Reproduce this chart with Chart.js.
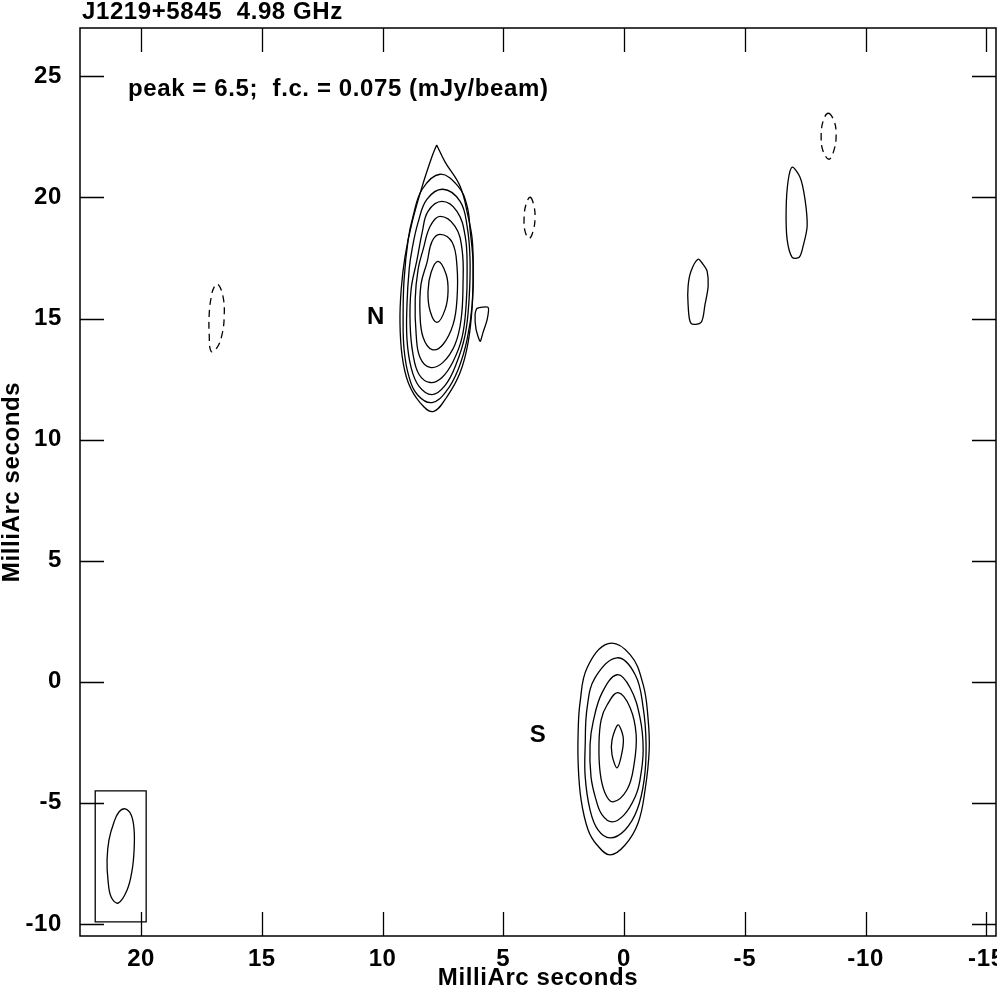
<!DOCTYPE html>
<html>
<head>
<meta charset="utf-8">
<title>J1219+5845 4.98 GHz</title>
<script src="https://cdn.jsdelivr.net/npm/chart.js@4.4.1/dist/chart.umd.min.js"></script>
<style>
  html, body { margin: 0; padding: 0; background: #fff; }
  canvas { display: block; }
</style>
</head>
<body>
<canvas id="map" width="997" height="990"></canvas>
<script>
// axes (milliarcseconds), x runs right to left
const xRange = [-15.4, 22.53];
const yRange = [-10.5, 27.0];
const xTicks = [20, 15, 10, 5, 0, -5, -10, -15];
const yTicks = [-10, -5, 0, 5, 10, 15, 20, 25];

// component N, contours from outside in
const north1 = [[7.76,22.17],[7.41,21.46],[6.79,20.46],[6.46,19.22],[6.29,18.27],[6.25,17.03],[6.29,15.50],[6.46,14.01],[6.79,12.77],[7.33,11.78],[7.91,11.16],[8.45,11.53],[8.94,12.36],[9.19,13.44],[9.28,14.84],[9.23,16.20],[9.07,17.57],[8.78,18.97],[8.36,20.46],[7.95,21.70],[7.76,22.17]];
const north2 = [[7.62,20.96],[6.87,20.46],[6.50,19.64],[6.38,18.69],[6.25,17.24],[6.29,15.58],[6.50,14.14],[6.87,12.90],[7.37,11.99],[7.95,11.53],[8.53,11.82],[8.90,12.57],[9.11,13.72],[9.15,15.17],[9.11,16.62],[8.94,18.27],[8.74,19.22],[8.36,20.34]];
const north3 = [[7.50,20.34],[6.79,19.84],[6.50,18.81],[6.38,17.45],[6.42,15.79],[6.58,14.34],[6.96,13.10],[7.41,12.24],[7.95,11.86],[8.49,12.20],[8.82,12.98],[8.99,14.14],[8.99,15.58],[8.90,17.03],[8.78,17.86],[8.53,18.97],[8.16,19.93]];
const north4 = [[7.54,19.84],[6.92,19.43],[6.58,18.40],[6.50,17.03],[6.54,15.58],[6.71,14.22],[7.08,13.23],[7.54,12.57],[8.03,12.36],[8.49,12.69],[8.74,13.52],[8.86,14.76],[8.82,16.20],[8.57,17.45],[8.36,18.56],[8.12,19.43]];
const north5 = [[7.62,19.22],[7.00,18.81],[6.71,17.86],[6.67,16.41],[6.75,14.96],[7.00,13.93],[7.50,13.19],[8.03,12.98],[8.45,13.39],[8.61,14.34],[8.65,15.79],[8.53,17.03],[8.32,17.86],[8.03,18.81]];
const north6 = [[7.62,18.48],[7.12,18.15],[6.92,17.16],[6.92,15.79],[7.08,14.76],[7.50,13.93],[7.95,13.72],[8.32,14.22],[8.45,15.17],[8.41,16.41],[8.16,17.32],[7.95,18.19]];
const north7 = [[7.70,17.36],[7.37,16.83],[7.29,16.12],[7.41,15.38],[7.74,14.84],[8.03,15.30],[8.12,16.12],[7.99,16.91]];
const northSide = [[6.09,15.42],[5.63,15.46],[5.67,14.96],[5.84,14.43],[5.96,14.06],[6.13,14.55],[6.17,15.17]];

// component S, contours from outside in
const south1 = [[0.66,1.57],[-0.25,1.12],[-0.79,-0.12],[-0.99,-1.49],[-1.04,-2.81],[-0.87,-4.46],[-0.58,-5.83],[-0.04,-6.74],[0.58,-7.15],[1.12,-6.74],[1.49,-6.12],[1.78,-4.88],[1.90,-3.43],[1.90,-1.98],[1.82,-0.83],[1.53,0.58]];
const south2 = [[0.29,0.99],[-0.46,0.29],[-0.79,-1.07],[-0.91,-2.60],[-0.83,-4.05],[-0.54,-5.29],[-0.04,-6.12],[0.58,-6.45],[1.08,-6.12],[1.41,-5.29],[1.61,-3.93],[1.61,-2.60],[1.53,-1.07],[1.20,0.17]];
const south3 = [[0.29,0.29],[-0.25,-0.25],[-0.66,-1.49],[-0.79,-2.81],[-0.66,-4.05],[-0.46,-4.75],[0.00,-5.50],[0.50,-5.79],[0.91,-5.50],[1.16,-4.88],[1.37,-3.93],[1.41,-2.60],[1.28,-1.65],[0.91,-0.45]];
const south4 = [[0.25,-0.45],[-0.25,-1.07],[-0.50,-2.19],[-0.41,-3.43],[-0.12,-4.46],[0.46,-4.96],[0.79,-4.59],[0.99,-3.76],[1.04,-2.60],[0.95,-1.57],[0.70,-0.95]];
const south5 = [[0.25,-1.78],[0.04,-2.27],[0.08,-2.89],[0.29,-3.56],[0.50,-3.02],[0.50,-2.40]];

// isolated positive patches
const patchA = [[-3.06,17.45],[-3.27,17.24],[-3.44,16.95],[-3.48,16.33],[-3.35,15.58],[-3.19,14.84],[-2.77,14.80],[-2.65,15.58],[-2.65,16.33],[-2.77,16.95]];
const patchB = [[-6.96,21.25],[-7.29,20.83],[-7.49,19.93],[-7.58,18.81],[-7.41,17.98],[-7.25,17.53],[-6.96,17.53],[-6.75,18.27],[-6.71,19.51],[-6.79,20.67]];

// negative contours (dashed)
const negA = [[16.81,16.41],[16.60,15.87],[16.56,15.05],[16.65,14.34],[16.85,13.81],[17.10,13.64],[17.18,14.34],[17.18,15.17],[17.10,15.87],[16.98,16.29]];
const negB = [[3.89,20.01],[3.73,19.64],[3.69,19.10],[3.77,18.60],[3.93,18.31],[4.10,18.60],[4.14,19.18],[4.06,19.72]];
const negC = [[-8.45,23.48],[-8.70,23.15],[-8.78,22.57],[-8.70,21.99],[-8.49,21.58],[-8.24,21.91],[-8.16,22.53],[-8.24,23.15]];

// restoring beam and its box
const beam = [[20.66,-5.25],[20.41,-5.50],[20.29,-6.12],[20.29,-6.95],[20.37,-7.77],[20.58,-8.60],[20.95,-9.14],[21.24,-8.89],[21.37,-8.19],[21.41,-7.36],[21.33,-6.53],[21.12,-5.79],[20.91,-5.37]];
const beamBox = [[21.90,-4.51],[19.79,-4.51],[19.79,-9.92],[21.90,-9.92]];

const sourceNames = ['N', 'S'];
const sourceX = [10.27, 3.56];
const sourceY = [15.05, -2.23];

const titleText = 'J1219+5845  4.98 GHz';
const peakText = 'peak = 6.5;  f.c. = 0.075 (mJy/beam)';

const FONT = '"Liberation Sans", Arial, Helvetica, sans-serif';
const tickLen = 24;

function contour(pts, closed, dashed, tension) {
  return {
    data: pts.map(([x, y]) => ({x, y})),
    closed: closed,
    spanGaps: true,
    borderColor: '#000',
    borderWidth: 1.3,
    borderDash: dashed ? [7, 5] : [],
    pointRadius: 0,
    fill: false,
    tension: tension === undefined ? 0.4 : tension
  };
}

const datasets = [
  contour(north1, false),
  contour(north2, true), contour(north3, true), contour(north4, true),
  contour(north5, true), contour(north6, true), contour(north7, true),
  contour(northSide, true, false, 0.2),
  contour(south1, true), contour(south2, true), contour(south3, true),
  contour(south4, true), contour(south5, true, false, 0.3),
  contour(patchA, true, false, 0.3), contour(patchB, true, false, 0.3),
  contour(negA, true, true), contour(negB, true, true), contour(negC, true, true),
  contour(beam, true),
  contour(beamBox, true, false, 0)
];

const mapPlugin = {
  id: 'mapFrame',
  beforeDraw(chart) {
    // the original lettering is a little wider than Helvetica
    chart.ctx.letterSpacing = '0.6px';
  },
  afterDatasetsUpdate(chart) {
    // make the closed contours loop back smoothly
    chart.data.datasets.forEach((ds, i) => {
      if (!ds.closed) return;
      const line = chart.getDatasetMeta(i).dataset;
      if (!line) return;
      line._loop = true;
      line._fullLoop = true;
      line._pointsUpdated = false;
      delete line._segments;
      delete line._path;
    });
  },
  afterDraw(chart) {
    const {ctx, chartArea: a, scales: {x, y}} = chart;
    ctx.save();
    ctx.strokeStyle = '#000';
    ctx.lineWidth = 1.5;
    ctx.strokeRect(a.left, a.top, a.right - a.left, a.bottom - a.top);
    ctx.beginPath();
    x.ticks.forEach(t => {
      const px = Math.round(x.getPixelForValue(t.value)) + 0.5;
      ctx.moveTo(px, a.top); ctx.lineTo(px, a.top + tickLen);
      ctx.moveTo(px, a.bottom); ctx.lineTo(px, a.bottom - tickLen);
    });
    y.ticks.forEach(t => {
      const py = Math.round(y.getPixelForValue(t.value)) + 0.5;
      ctx.moveTo(a.left, py); ctx.lineTo(a.left + tickLen, py);
      ctx.moveTo(a.right, py); ctx.lineTo(a.right - tickLen, py);
    });
    ctx.lineWidth = 1.3;
    ctx.stroke();

    ctx.fillStyle = '#000';
    ctx.font = 'bold 24px ' + FONT;
    ctx.textAlign = 'left';
    ctx.textBaseline = 'alphabetic';
    ctx.fillText(titleText, a.left + 2, 19);
    ctx.fillText(peakText, a.left + 48, a.top + 68);

    ctx.textAlign = 'center';
    ctx.textBaseline = 'middle';
    sourceNames.forEach((name, i) => {
      ctx.fillText(name, x.getPixelForValue(sourceX[i]), y.getPixelForValue(sourceY[i]));
    });
    ctx.restore();
  }
};

const tickFont = {family: FONT, size: 24, weight: 'bold'};
const titleFont = {family: FONT, size: 24, weight: 'bold', lineHeight: 1};

new Chart(document.getElementById('map'), {
  type: 'line',
  data: {datasets},
  options: {
    responsive: false,
    animation: false,
    events: [],
    layout: {padding: {top: 28, right: 1, left: 0, bottom: 0}},
    plugins: {legend: {display: false}, tooltip: {enabled: false}},
    scales: {
      x: {
        type: 'linear',
        reverse: true,
        min: xRange[0],
        max: xRange[1],
        afterBuildTicks: s => { s.ticks = xTicks.map(v => ({value: v})); },
        afterFit: s => { s.height = 54; s.paddingLeft = 0; s.paddingRight = 0; },
        grid: {display: false},
        border: {display: false},
        ticks: {font: tickFont, color: '#000', padding: 1, maxRotation: 0, autoSkip: false},
        title: {display: true, text: 'MilliArc seconds', font: titleFont, color: '#000', padding: 0}
      },
      y: {
        type: 'linear',
        min: yRange[0],
        max: yRange[1],
        afterBuildTicks: s => { s.ticks = yTicks.map(v => ({value: v})); },
        afterFit: s => { s.width = 80; s.paddingTop = 0; s.paddingBottom = 0; },
        grid: {display: false},
        border: {display: false},
        ticks: {font: tickFont, color: '#000', padding: 10, autoSkip: false},
        title: {display: true, text: 'MilliArc seconds', font: titleFont, color: '#000', padding: 0}
      }
    }
  },
  plugins: [mapPlugin]
});
</script>
</body>
</html>
